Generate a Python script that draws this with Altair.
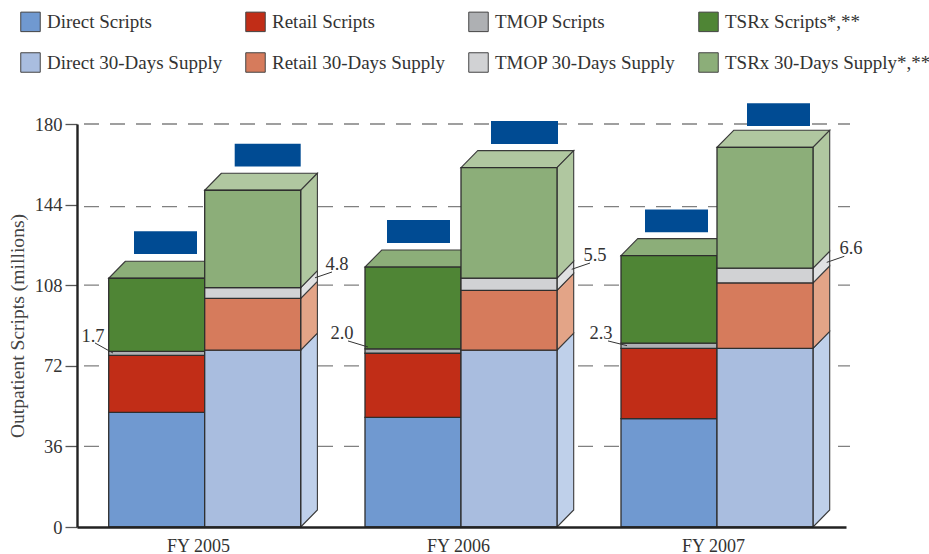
import altair as alt
import pandas as pd

FONT = "Liberation Serif"
INK = "#333333"

# Fiscal years and stacked values (millions) for the two columns of each year.
years = ["FY 2005", "FY 2006", "FY 2007"]
direct_scripts = [51.2, 49.0, 48.4]
retail_scripts = [25.5, 28.6, 31.4]
tmop_scripts = [1.7, 2.0, 2.3]
tsrx_scripts = [32.7, 36.5, 39.1]
direct_supply = [79.0, 79.0, 79.8]
retail_supply = [23.1, 26.7, 29.2]
tmop_supply = [4.8, 5.5, 6.6]
tsrx_supply = [43.5, 49.3, 54.0]

script_names = ["Direct Scripts", "Retail Scripts", "TMOP Scripts", "TSRx Scripts*,**"]
supply_names = [
    "Direct 30-Days Supply",
    "Retail 30-Days Supply",
    "TMOP 30-Days Supply",
    "TSRx 30-Days Supply*,**",
]
script_colors = ["#7099d0", "#c12d17", "#aeb0b3", "#4f8535"]
supply_colors = ["#a9bddf", "#d67b5c", "#d1d2d4", "#8cae79"]
side_colors = ["#bfd0ea", "#e3a487", "#e0e1e2", "#b0c7a0"]
top_color_scripts = "#8cae79"
top_color_supply = "#b0c7a0"

y_ticks = [0, 36, 72, 108, 144, 180]
grid_levels = [36, 72, 108, 143.1, 180]

# Horizontal layout on the hidden x scale
x_span = 769
y_span = 403
bar_width = 96
group_lefts = [31.7, 288, 544]
depth_x = 16.7
depth_y = 7.6
grid_start, grid_end = 7, 773
year_label_x = [121, 381, 636]

# Covering boxes above each column: left and right edge relative to the column,
# and the clearance between the box and the column's top face
box_offsets_scripts = [(25.3, 88.3), (22, 85), (24, 87)]
box_offsets_supply = [(30, 96), (30, 97), (30, 93)]
box_gaps_scripts = [3.2, 3.2, 2.8]
box_gaps_supply = [3.0, 3.0, 1.9]
box_height = 10.2

# Callouts for the thin TMOP bands
callout_text = ["1.7", "2.0", "2.3", "4.8", "5.5", "6.6"]
callout_x = [16, 265, 524, 260, 518, 774]
callout_y = [85.3, 86.6, 86.6, 117.5, 121.5, 124.6]
leader_x1 = [18, 271, 531, 238, 494.7, 749.7]
leader_x2 = [36, 291, 550, 255, 513, 767.3]
leader_y1 = [82.2, 83.1, 83.1, 111.3, 115.1, 118.2]
leader_y2 = [77.7, 80.4, 81.0, 113.9, 117.9, 120.9]

scripts_by_kind = [direct_scripts, retail_scripts, tmop_scripts, tsrx_scripts]
supply_by_kind = [direct_supply, retail_supply, tmop_supply, tsrx_supply]

fronts, sides, tops, boxes = [], [], [], []
for g, left in enumerate(group_lefts):
    columns = [
        (left, scripts_by_kind, script_names, top_color_scripts,
         box_offsets_scripts[g], box_gaps_scripts[g]),
        (left + bar_width, supply_by_kind, supply_names, top_color_supply,
         box_offsets_supply[g], box_gaps_supply[g]),
    ]
    for c, (x0, kinds, names, top_color, offsets, gap) in enumerate(columns):
        x1 = x0 + bar_width
        base = 0.0
        for k, series in enumerate(kinds):
            value = series[g]
            fronts.append(dict(layer=c, x=x0, x2=x1, y=base, y2=base + value, series=names[k]))
            sid = f"{g}-{c}-{k}"
            sides.append(dict(layer=c, sid=sid, color=side_colors[k], x=x1, y=base, y2=base + value))
            sides.append(dict(layer=c, sid=sid, color=side_colors[k], x=x1 + depth_x,
                              y=base + depth_y, y2=base + value + depth_y))
            base += value
        sid = f"{g}-{c}"
        tops.append(dict(layer=c, sid=sid, color=top_color, x=x0, x2=x1, y=base))
        tops.append(dict(layer=c, sid=sid, color=top_color, x=x0 + depth_x, x2=x1 + depth_x, y=base + depth_y))
        box_low = base + depth_y + gap
        boxes.append(dict(x=x0 + offsets[0], x2=x0 + offsets[1], y=box_low, y2=box_low + box_height))

fronts = pd.DataFrame(fronts)
sides = pd.DataFrame(sides)
tops = pd.DataFrame(tops)
boxes = pd.DataFrame(boxes)

x_scale = alt.Scale(domain=[0, x_span], nice=False, zero=False)
y_scale = alt.Scale(domain=[0, 180], nice=False)

year_labels = "{" + ",".join(f"'{x}':'{t}'" for x, t in zip(year_label_x, years)) + "}"
x_axis = alt.Axis(
    values=year_label_x,
    labelExpr=f"{year_labels}[datum.value]",
    title=None, grid=False, ticks=False,
    domainColor="#222222", domainWidth=2.4,
    labelFont=FONT, labelFontSize=18, labelColor=INK,
    labelPadding=10, labelOverlap=False, labelFlush=False, zindex=1,
)
y_axis = alt.Axis(
    values=y_ticks, title="Outpatient Scripts (millions)", grid=False,
    domainColor="#222222", domainWidth=2.4,
    tickColor="#555555", tickWidth=1.3, tickSize=12,
    labelFont=FONT, labelFontSize=18.5, labelColor=INK, labelPadding=3,
    titleFont=FONT, titleFontSize=19.6, titleFontWeight="normal", titleColor="#444444",
    titlePadding=7, zindex=1,
)
x_enc = alt.X("x:Q", scale=x_scale, axis=x_axis)
y_enc = alt.Y("y:Q", scale=y_scale, axis=y_axis)

grid = (
    alt.Chart(pd.DataFrame({"y": grid_levels, "x": grid_start, "x2": grid_end}))
    .mark_rule(color="#808080", strokeWidth=1.3, strokeDash=[15, 11])
    .encode(x=x_enc, x2="x2:Q", y=y_enc)
)


def side_faces(column):
    return (
        alt.Chart(sides[sides.layer == column])
        .mark_area(stroke="#3a3a3a", strokeWidth=1.1)
        .encode(x=x_enc, y=y_enc, y2="y2:Q",
                fill=alt.Fill("color:N", scale=None), detail="sid:N")
    )


def top_faces(column):
    return (
        alt.Chart(tops[tops.layer == column])
        .mark_area(orient="horizontal", stroke="#3a3a3a", strokeWidth=1.1)
        .encode(x=x_enc, x2="x2:Q", y=y_enc,
                fill=alt.Fill("color:N", scale=None), detail="sid:N")
    )


all_names = script_names + supply_names
all_colors = script_colors + supply_colors
series_scale = alt.Scale(domain=all_names, range=all_colors)


def front_faces(column, legend):
    return (
        alt.Chart(fronts[fronts.layer == column])
        .mark_rect(stroke="#2e2e2e", strokeWidth=1.3)
        .encode(x=x_enc, x2="x2:Q", y=y_enc, y2="y2:Q",
                fill=alt.Fill("series:N", scale=series_scale, legend=legend))
    )


series_legend = alt.Legend(
    title=None, orient="none", direction="horizontal", columns=4,
    legendX=-57, legendY=-113, symbolType="square", symbolSize=380,
    symbolStrokeColor="#444444", symbolStrokeWidth=1,
    labelFont=FONT, labelFontSize=19, labelColor=INK, labelLimit=260,
    labelOffset=6, columnPadding=20, rowPadding=16, padding=0,
)

covers = (
    alt.Chart(boxes)
    .mark_rect(color="#004b93")
    .encode(x=x_enc, x2="x2:Q", y=y_enc, y2="y2:Q")
)

callouts = pd.DataFrame({
    "text": callout_text, "x": callout_x, "y": callout_y,
    "lx": leader_x1, "lx2": leader_x2, "ly": leader_y1, "ly2": leader_y2,
})
leaders = (
    alt.Chart(callouts)
    .mark_rule(color="#333333", strokeWidth=1)
    .encode(
        x=alt.X("lx:Q", scale=x_scale, axis=x_axis), x2="lx2:Q",
        y=alt.Y("ly:Q", scale=y_scale, axis=y_axis), y2="ly2:Q",
    )
)
callout_labels = (
    alt.Chart(callouts)
    .mark_text(font=FONT, fontSize=18.5, color=INK, baseline="middle", align="center")
    .encode(x=x_enc, y=y_enc, text="text:N")
)

chart = (
    alt.layer(
        grid,
        top_faces(0), side_faces(0), front_faces(0, series_legend),
        top_faces(1), side_faces(1), front_faces(1, None),
        covers, leaders, callout_labels,
    )
    .resolve_scale(fill="independent")
    .properties(
        width=x_span,
        height=y_span,
        background="white",
        autosize=alt.AutoSizeParams(type="none"),
        padding={"left": 77, "top": 124, "right": 83, "bottom": 27},
    )
    .configure_view(stroke=None)
)

chart.save("out.html", embed_options={"renderer": "svg", "actions": False})
